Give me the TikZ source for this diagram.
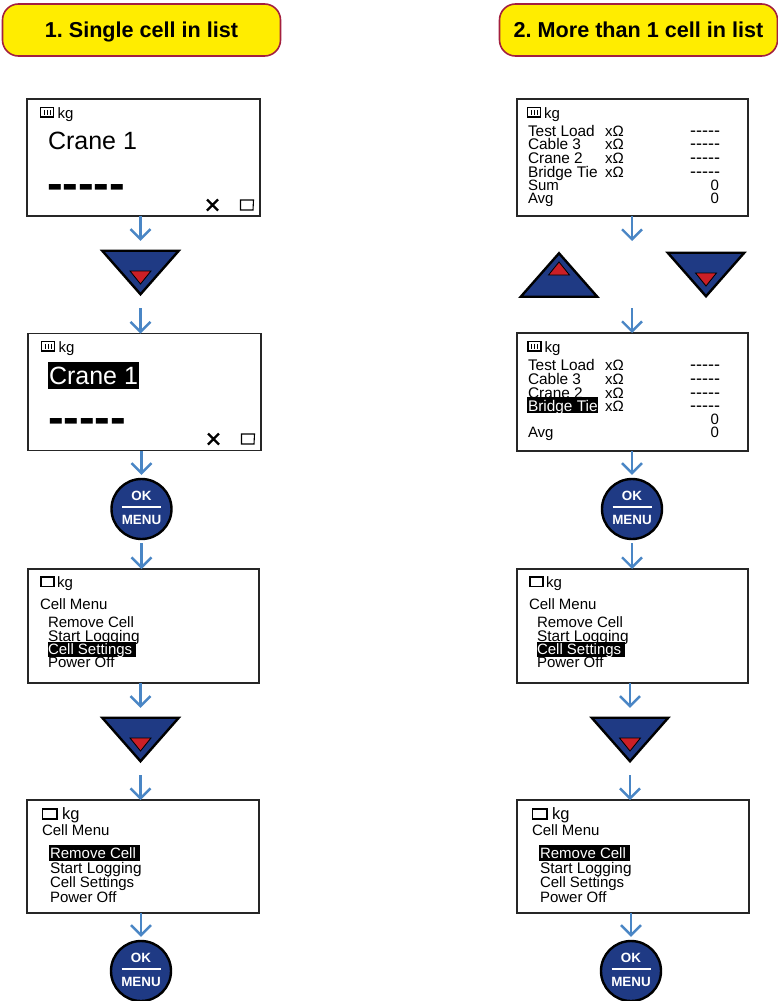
\documentclass[tikz,border=0pt]{standalone}
\usepackage{fontspec}
\setmainfont{Liberation Sans}
\newfontfamily\dashfont{Liberation Sans}
\usetikzlibrary{arrows.meta}
\definecolor{hdrfill}{HTML}{FFED00}
\definecolor{hdredge}{HTML}{A3203F}
\definecolor{keyblue}{HTML}{1F3A84}
\definecolor{keyred}{HTML}{CC1F26}
\definecolor{flowblue}{HTML}{4A86C5}
\tikzset{
  header/.style={draw=hdredge,fill=hdrfill,line width=1.6pt,rounded corners=16pt,minimum width=278pt,minimum height=52pt,inner sep=0pt,outer sep=0pt,text height=17.5pt,text depth=2.5pt,font=\fontsize{21.6}{22}\selectfont\bfseries\frenchspacing},
  screen/.style={draw=black!85,line width=1.2pt,fill=white,inner sep=0pt,outer sep=0pt},
  flow/.style={draw=flowblue,line width=2.4pt,-{Straight Barb[length=10pt,width=20pt,line width=2.4pt]}},
  keyzone/.style={inner sep=0pt,outer sep=0pt,minimum width=76.5pt,minimum height=43.5pt},
  keyshape/.style={draw=black,fill=keyblue,line width=2.4pt,line join=miter},
  keymark/.style={draw=black,fill=keyred,line width=.8pt,line join=miter},
  okbtn/.style={circle,draw=black,fill=keyblue,line width=2.4pt,minimum size=60pt,inner sep=0pt,outer sep=1.2pt},
  btntext/.style={text=white,inner sep=0pt,outer sep=0pt,font=\fontsize{13.4}{13}\selectfont\bfseries},
  lcd/.style={anchor=base west,inner sep=0pt,outer sep=0pt,font=\fontsize{15}{15}\selectfont},
  lcdr/.style={anchor=base east,inner sep=0pt,outer sep=0pt,font=\fontsize{15}{15}\selectfont},
  lcdwide/.style={lcd,font=\fontsize{15.4}{15}\selectfont},
  big/.style={lcd,font=\fontsize{25}{25}\selectfont},
  bigdash/.style={lcd,font=\fontsize{47}{47}\dashfont\bfseries},
  smalldash/.style={lcdr,font=\fontsize{18}{18}\dashfont},
  icon/.style={draw=black,line width=1.1pt,fill=white},
}
% battery icon with three bars
\newcommand{\battery}[2]{%
  \draw[icon] (#1,#2) rectangle ++(13,9.5);
  \draw[line width=1pt] (#1+3.5,#2+2.5) -- ++(0,4.5) (#1+6.5,#2+2.5) -- ++(0,4.5) (#1+9.5,#2+2.5) -- ++(0,4.5);}
% empty cell icon
\newcommand{\emptycell}[4]{\draw[icon] (#1,#2) rectangle ++(#3,#4);}
% status marks at the foot of a single cell screen
\newcommand{\statusmarks}[2]{%
  \draw[line width=2.4pt] (#1-5.5,#2-5.5) -- (#1+5.5,#2+5.5) (#1-5.5,#2+5.5) -- (#1+5.5,#2-5.5);
  \draw[icon] (#1+28,#2-5) -- (#1+41,#2-5) -- (#1+40.5,#2+5) -- (#1+28,#2+5) -- cycle;}
% down / up keys
\newcommand{\keydown}[3]{%
  \node[keyzone] (#1) at (#2,#3) {};
  \draw[keyshape] (#1.north west) -- (#1.north east) -- (#1.south) -- cycle;
  \draw[keymark] (#2-10.5,#3-1.5) -- (#2+10.5,#3-1.5) -- (#2,#3+11.5) -- cycle;}
\newcommand{\keyup}[3]{%
  \node[keyzone] (#1) at (#2,#3) {};
  \draw[keyshape] (#1.south west) -- (#1.south east) -- (#1.north) -- cycle;
  \draw[keymark] (#2-10.5,#3) -- (#2+10.5,#3) -- (#2,#3-13) -- cycle;}
\newcommand{\okmenu}[3]{%
  \node[okbtn] (#1) at (#2,#3) {};
  \node[btntext] (#1ok) at (#2,#3-13.5) {OK};
  \node[btntext] (#1menu) at (#2,#3+11) {MENU};
  \draw[white,line width=2.2pt] (#2-19.5,#3-2) -- (#2+19.5,#3-2);}
% menu screen, upper layout (#1 name, #2 x offset)
\newcommand{\menuA}[2]{%
  \node[screen,minimum width=231pt,minimum height=114pt] (#1) at (143.5+#2,626) {};
  \emptycell{41+#2}{577}{13}{9.5}
  \node[lcd] (#1kg) at (57+#2,587) {kg};
  \node[lcd] (#1t) at (40+#2,609) {Cell Menu};
  \node[lcd] (#1a) at (48+#2,627) {Remove Cell};
  \node[lcdwide] (#1b) at (48+#2,641) {Start Logging};
  \fill[black] (48+#2,642) rectangle (136+#2,657);
  \node[lcd,text=white] (#1c) at (48+#2,654) {Cell Settings};
  \node[lcd] (#1d) at (48+#2,667) {Power Off};}
% menu screen, lower layout
\newcommand{\menuB}[2]{%
  \node[screen,minimum width=232pt,minimum height=113pt] (#1) at (143+#2,856.5) {};
  \emptycell{42.5+#2}{809}{14.5}{10}
  \node[lcd,font=\fontsize{16.5}{16}\selectfont] (#1kg) at (62+#2,819) {kg};
  \node[lcd] (#1t) at (42+#2,835) {Cell Menu};
  \fill[black] (49+#2,845) rectangle (140+#2,861);
  \node[lcd,text=white] (#1a) at (50+#2,858) {Remove Cell};
  \node[lcdwide] (#1b) at (50+#2,873) {Start Logging};
  \node[lcd] (#1c) at (50+#2,887) {Cell Settings};
  \node[lcd] (#1d) at (50+#2,902) {Power Off};}
% list screen rows
\newcommand{\listrow}[3]{%
  \node[lcdwide] (#1n) at (528,#2) {#3};
  \node[lcd] (#1o) at (605,#2) {xΩ};
  \node[smalldash] (#1v) at (720,#2) {-----};}
\begin{document}
\begin{tikzpicture}[x=1pt,y=-1pt]
\useasboundingbox (0,0) rectangle (778,1001);
% headers
\node[header] (h1) at (141.5,30) {1. Single cell in list};
\node[header] (h2) at (638.5,30) {2. More than 1 cell in list};

% left column, first screen
\node[screen,minimum width=233pt,minimum height=117pt] (s1) at (143.5,157.5) {};
\battery{40.5}{107.5}
\node[lcd] (s1kg) at (57.5,118) {kg};
\node[big] (s1t) at (48,149) {Crane 1};
\node[bigdash] (s1v) at (47,199) {-----};
\statusmarks{212.5}{205}

\keydown{k1}{140.5}{272.5}

% left column, second screen
\node[screen,minimum width=233pt,minimum height=117pt] (s2) at (144.5,392) {};
\battery{41.5}{341.5}
\node[lcd] (s2kg) at (58.5,352) {kg};
\fill[black] (48,362) rectangle (139,389);
\node[big,text=white] (s2t) at (49,384) {Crane 1};
\node[bigdash] (s2v) at (48,433) {-----};
\statusmarks{213.5}{439}

\okmenu{b1}{141.5}{509}
\menuA{s3}{0}
\keydown{k2}{140.5}{739.5}
\menuB{s4}{0}
\okmenu{b2}{141}{971}

% right column, first screen
\node[screen,minimum width=231pt,minimum height=117pt] (s5) at (632.5,157.5) {};
\battery{527.5}{107.5}
\node[lcd] (s5kg) at (544,118) {kg};
\listrow{s5r1}{136}{Test Load}
\listrow{s5r2}{149}{Cable 3}
\listrow{s5r3}{163}{Crane 2}
\listrow{s5r4}{177}{Bridge Tie}
\node[lcd] (s5sum) at (528,190) {Sum};
\node[lcdr] (s5sumv) at (719,190) {0};
\node[lcd] (s5avg) at (528,203) {Avg};
\node[lcdr] (s5avgv) at (719,203) {0};

\keyup{k3}{559}{275}
\keydown{k4}{706}{274.5}

% right column, second screen
\node[screen,minimum width=231pt,minimum height=118pt] (s6) at (632.5,392) {};
\battery{528}{341.5}
\node[lcd] (s6kg) at (544.5,352) {kg};
\listrow{s6r1}{370}{Test Load}
\listrow{s6r2}{384}{Cable 3}
\listrow{s6r3}{398}{Crane 2}
\fill[black] (527,397) rectangle (598,413);
\node[lcdwide,text=white] (s6hl) at (528,411) {Bridge Tie};
\node[lcd] (s6r4o) at (605,411) {xΩ};
\node[smalldash] (s6r4v) at (720,411) {-----};
\node[lcdr] (s6sumv) at (719,424) {0};
\node[lcd] (s6avg) at (528,437) {Avg};
\node[lcdr] (s6avgv) at (719,437) {0};

\okmenu{b3}{632}{509}
\menuA{s7}{489}
\keydown{k5}{630}{739.5}
\menuB{s8}{490}
\okmenu{b4}{631}{971}

% connectors, left
\draw[flow,shorten >=10pt] (k1.north |- s1.south) -- (k1.north);
\draw[flow,shorten <=14pt] (k1.south) -- (k1.south |- s2.north);
\draw[flow,shorten >=3pt] (b1.north |- s2.south) -- (b1.north);
\draw[flow,shorten <=3pt] (b1.south) -- (b1.south |- s3.north);
\draw[flow,shorten >=10pt] (k2.north |- s3.south) -- (k2.north);
\draw[flow,shorten <=14pt] (k2.south) -- (k2.south |- s4.north);
\draw[flow,shorten >=3pt] (b2.north |- s4.south) -- (b2.north);
% connectors, right
\coordinate (r1) at (632,241);
\coordinate (r2) at (632,308);
\draw[flow] (r1 |- s5.south) -- (r1);
\draw[flow] (r2) -- (r2 |- s6.north);
\draw[flow,shorten >=3pt] (b3.north |- s6.south) -- (b3.north);
\draw[flow,shorten <=3pt] (b3.south) -- (b3.south |- s7.north);
\draw[flow,shorten >=10pt] (k5.north |- s7.south) -- (k5.north);
\draw[flow,shorten <=14pt] (k5.south) -- (k5.south |- s8.north);
\draw[flow,shorten >=3pt] (b4.north |- s8.south) -- (b4.north);
\end{tikzpicture}
\end{document}
